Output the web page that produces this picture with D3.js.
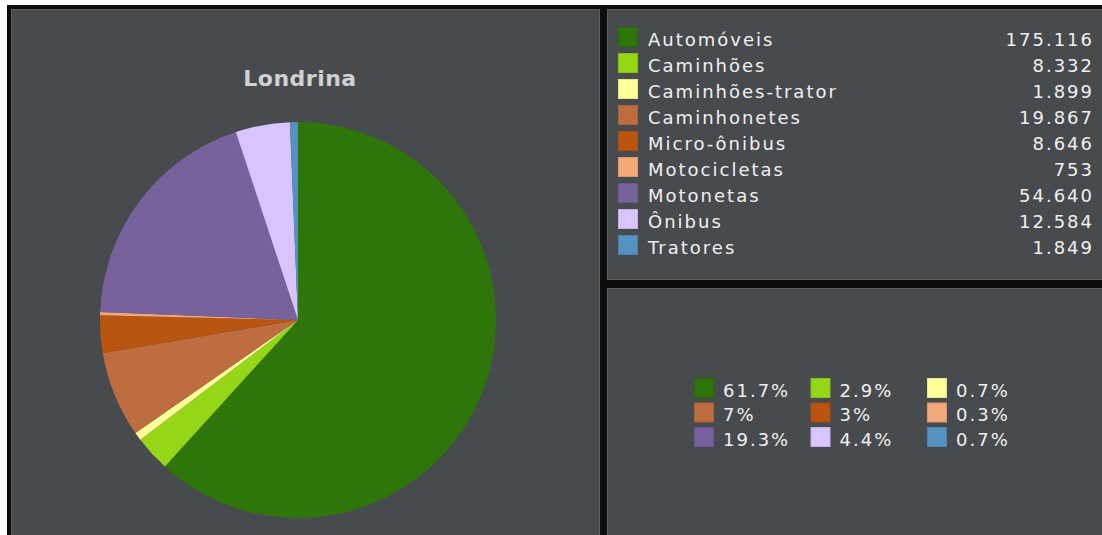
<!DOCTYPE html>
<html>
<head>
<meta charset="utf-8">
<script src="https://cdn.jsdelivr.net/npm/d3@7"></script>
<style>
  html, body { margin: 0; padding: 0; background: #ffffff; overflow: hidden; }
  text { font-family: "DejaVu Sans", Verdana, sans-serif; }
</style>
</head>
<body>
<div id="chart"></div>
<script>
// dados - frota de veiculos, Londrina
var title = "Londrina";
var categories = ["Automóveis", "Caminhões", "Caminhões-trator", "Caminhonetes", "Micro-ônibus",
                  "Motocicletas", "Motonetas", "Ônibus", "Tratores"];
var values = [175116, 8332, 1899, 19867, 8646, 753, 54640, 12584, 1849];
var colors = ["#2e750a", "#95d617", "#ffff99", "#bd6d40", "#ba5510",
              "#f4a97a", "#78629c", "#d9c4ff", "#5592c2"];

var W = 1102, H = 535;
var bg = "#484b4e", edge = "#5d6063";

var ptBR = d3.formatLocale({decimal: ",", thousands: ".", grouping: [3], currency: ["R$", ""]});
var fmtNum = ptBR.format(",d");
var total = d3.sum(values);
function fmtPct(v) { return (+(v / total * 100).toFixed(1)) + "%"; }

var svg = d3.select("#chart").append("svg")
    .attr("width", W)
    .attr("height", H);

// fundo preto + paineis
svg.append("rect").attr("x", 7).attr("y", 5).attr("width", W - 7).attr("height", H - 5).attr("fill", "#0d0d0d");

var panels = [
  {x: 11, y: 9, w: 588, h: 530},
  {x: 607, y: 9, w: 500, h: 270},
  {x: 607, y: 288, w: 500, h: 250}
];
svg.selectAll("rect.panel").data(panels).enter().append("rect")
    .attr("class", "panel")
    .attr("x", d => d.x + 0.5)
    .attr("y", d => d.y + 0.5)
    .attr("width", d => d.w)
    .attr("height", d => d.h)
    .attr("fill", bg)
    .attr("stroke", edge)
    .attr("stroke-width", 1);

// titulo
svg.append("text")
    .attr("x", 300)
    .attr("y", 86)
    .attr("text-anchor", "middle")
    .attr("font-size", 22)
    .attr("font-weight", "bold")
    .attr("letter-spacing", 0.5)
    .attr("fill", "#d2d2d2")
    .text(title);

// pizza
var color = d3.scaleOrdinal().domain(categories).range(colors);
var pie = d3.pie().sort(null).value(d => d.value);
var arc = d3.arc().innerRadius(0).outerRadius(198);
var rows = categories.map((c, i) => ({name: c, value: values[i]}));

svg.append("g")
    .attr("transform", "translate(298,320)")
    .selectAll("path")
    .data(pie(rows))
    .enter().append("path")
    .attr("d", arc)
    .attr("fill", d => color(d.data.name));

// legenda com valores
var legY = d3.scaleBand().domain(categories).range([27, 27 + 26 * categories.length]);
var leg = svg.append("g").selectAll("g")
    .data(rows).enter().append("g")
    .attr("transform", d => "translate(618," + legY(d.name) + ")");
leg.append("rect")
    .attr("x", 0.5).attr("y", 0.5)
    .attr("width", 19).attr("height", 19)
    .attr("fill", d => color(d.name))
    .attr("stroke", d => d3.color(color(d.name)).darker(0.3));
leg.append("text")
    .attr("x", 30).attr("y", 18.5)
    .attr("font-size", 18)
    .attr("letter-spacing", 2)
    .attr("fill", "#f0f0f0")
    .text(d => d.name);
leg.append("text")
    .attr("x", 476).attr("y", 18.5)
    .attr("text-anchor", "end")
    .attr("font-size", 18)
    .attr("letter-spacing", 2)
    .attr("fill", "#f0f0f0")
    .text(d => fmtNum(d.value));

// legenda de porcentagens (3 colunas)
var colX = d3.scalePoint().domain([0, 1, 2]).range([694, 927]);
var rowY = d3.scalePoint().domain([0, 1, 2]).range([378, 427]);
var pleg = svg.append("g").selectAll("g")
    .data(rows).enter().append("g")
    .attr("transform", (d, i) => "translate(" + colX(i % 3) + "," + rowY(Math.floor(i / 3)) + ")");
pleg.append("rect")
    .attr("x", 0.5).attr("y", 0.5)
    .attr("width", 19).attr("height", 19)
    .attr("fill", d => color(d.name))
    .attr("stroke", d => d3.color(color(d.name)).darker(0.3));
pleg.append("text")
    .attr("x", 29).attr("y", 18.5)
    .attr("font-size", 18)
    .attr("letter-spacing", 2)
    .attr("fill", "#f0f0f0")
    .text(d => fmtPct(d.value));
</script>
</body>
</html>
